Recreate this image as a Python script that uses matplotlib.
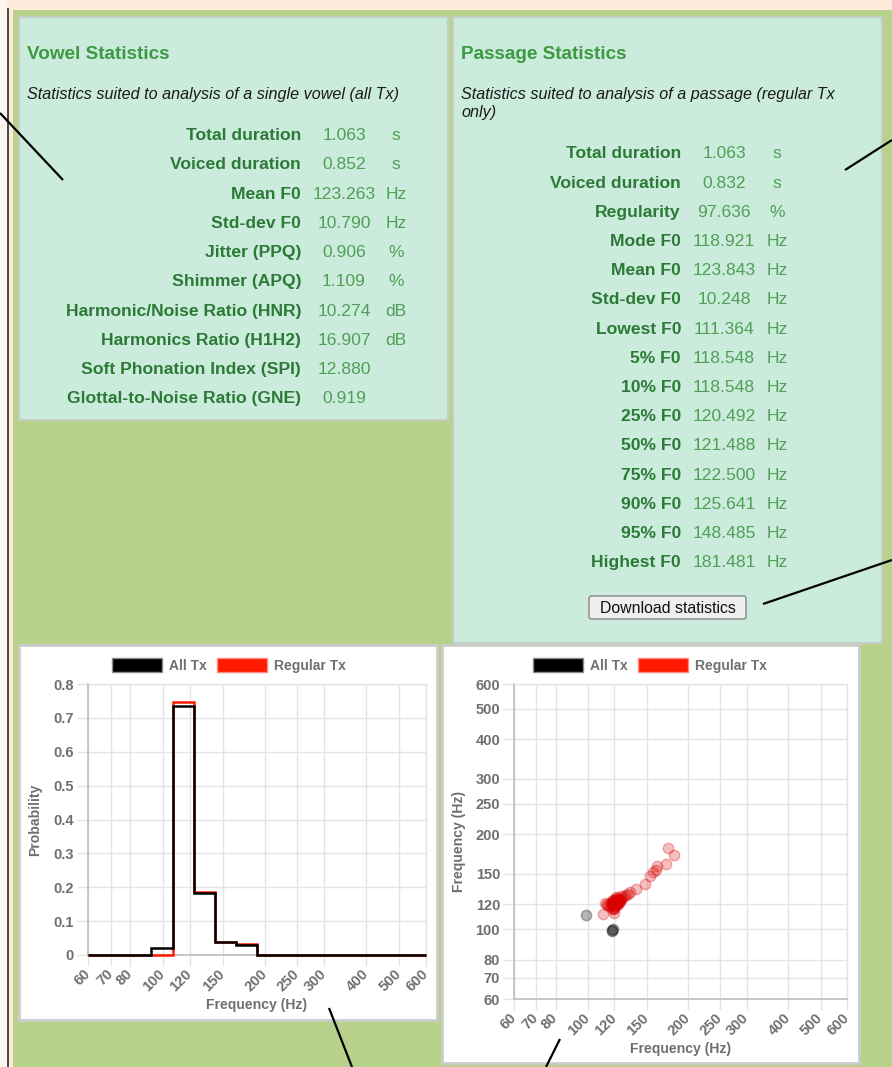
import matplotlib
matplotlib.use('Agg')
import matplotlib.pyplot as plt
from matplotlib.patches import Rectangle, FancyBboxPatch, Patch
from matplotlib.ticker import FixedLocator, NullLocator, FixedFormatter

plt.rcParams['font.family'] = ['Liberation Sans', 'DejaVu Sans']

# ---------------- data ----------------
vowel_labels = ["Total duration", "Voiced duration", "Mean F0", "Std-dev F0",
                "Jitter (PPQ)", "Shimmer (APQ)", "Harmonic/Noise Ratio (HNR)",
                "Harmonics Ratio (H1H2)", "Soft Phonation Index (SPI)",
                "Glottal-to-Noise Ratio (GNE)"]
vowel_values = ["1.063", "0.852", "123.263", "10.790", "0.906", "1.109",
                "10.274", "16.907", "12.880", "0.919"]
vowel_units = ["s", "s", "Hz", "Hz", "%", "%", "dB", "dB", "", ""]

passage_labels = ["Total duration", "Voiced duration", "Regularity", "Mode F0",
                  "Mean F0", "Std-dev F0", "Lowest F0", "5% F0", "10% F0",
                  "25% F0", "50% F0", "75% F0", "90% F0", "95% F0", "Highest F0"]
passage_values = ["1.063", "0.832", "97.636", "118.921", "123.843", "10.248",
                  "111.364", "118.548", "118.548", "120.492", "121.488",
                  "122.500", "125.641", "148.485", "181.481"]
passage_units = ["s", "s", "%", "Hz", "Hz", "Hz", "Hz", "Hz", "Hz", "Hz", "Hz",
                 "Hz", "Hz", "Hz", "Hz"]

freq_ticks = [60, 70, 80, 100, 120, 150, 200, 250, 300, 400, 500, 600]
prob_ticks = [0, 0.1, 0.2, 0.3, 0.4, 0.5, 0.6, 0.7, 0.8]
prob_labels = ["0", "0.1", "0.2", "0.3", "0.4", "0.5", "0.6", "0.7", "0.8"]

hist_edges = [60, 69.29, 80.01, 92.39, 106.70, 123.21, 142.28, 164.30, 189.74,
              219.1, 253.0, 292.2, 337.4, 389.6, 449.9, 519.6, 600]
hist_all = [0, 0, 0, 0.020, 0.735, 0.182, 0.039, 0.029, 0, 0, 0, 0, 0, 0, 0, 0]
hist_regular = [0, 0, 0, 0, 0.748, 0.186, 0.037, 0.031, 0, 0, 0, 0, 0, 0, 0, 0]

scatter_all_x = [98.6, 118.2, 118.6, 117.9]
scatter_all_y = [111.2, 99.3, 99.9, 98.8]

scatter_reg_x = [117, 118, 119, 120, 120, 121, 121, 122, 122, 123, 123, 124,
                 119, 120, 118, 121, 122, 120, 124, 125, 122, 119, 116, 117,
                 118, 119, 121, 123, 125, 126, 120, 121, 122, 118, 124, 126,
                 112.2, 113.8, 111.0, 119.6, 121.6, 126.9, 130.4, 134.0, 139.7,
                 148.0, 154.0, 159.9, 161.4, 172.2, 174.2, 181.6, 128.0, 132.0,
                 157.0, 114.5]
scatter_reg_y = [118, 120, 121, 119, 122, 120, 123, 121, 124, 122, 125, 123,
                 117, 116, 119, 121, 122, 120, 124, 125, 119, 122, 118, 121,
                 123, 124, 118, 120, 123, 124, 117, 125, 126, 116, 121, 127,
                 121.0, 120.3, 112.0, 112.6, 126.7, 126.0, 128.3, 131.5, 134.0,
                 139.4, 147.0, 154.0, 158.7, 161.3, 181.0, 172.5, 127.0, 129.0,
                 152.0, 119.0]

# ---------------- layout ----------------
W, H = 892, 1067
fig = plt.figure(figsize=(W / 100, H / 100), dpi=100)
fig.patch.set_facecolor('#fdeadb')

GREEN_BG = '#b8d28c'
MINT = '#cbebdc'
TITLE_C = '#3d9a42'
LABEL_C = '#2b7a35'
VALUE_C = '#4f9f56'


def fr(x0, y0, x1, y1):
    return [x0 / W, 1 - y1 / H, (x1 - x0) / W, (y1 - y0) / H]


bg = fig.add_axes([0, 0, 1, 1])
bg.set_xlim(0, W)
bg.set_ylim(H, 0)
bg.axis('off')

bg.add_patch(Rectangle((0, 0), 7, H, fc='#fbf4ef', ec='none'))
bg.add_patch(Rectangle((7, 8), 1.6, H, fc='#4a4a4a', ec='none'))
bg.add_patch(Rectangle((13, 10), W - 13, H - 10, fc=GREEN_BG, ec='none'))

# panels
bg.add_patch(Rectangle((19, 17), 429, 403, fc=MINT, ec='#c3cfc4', lw=1.5))
bg.add_patch(Rectangle((453, 17), 429, 626, fc=MINT, ec='#c3cfc4', lw=1.5))
bg.add_patch(Rectangle((19, 645), 418, 375, fc='white', ec='#cccccc', lw=2))
bg.add_patch(Rectangle((442, 645), 417, 418, fc='white', ec='#cccccc', lw=2))

# vowel panel text
bg.text(27, 59, "Vowel Statistics", fontsize=13.6, fontweight='bold',
        color=TITLE_C, va='baseline', ha='left')
bg.text(27, 99, "Statistics suited to analysis of a single vowel (all Tx)",
        fontsize=11.6, style='italic', color='#1a1a1a', va='baseline', ha='left')
for i, (lab, val, un) in enumerate(zip(vowel_labels, vowel_values, vowel_units)):
    yb = 140.0 + i * 29.26
    bg.text(301, yb, lab, fontsize=12.6, fontweight='bold', color=LABEL_C,
            ha='right', va='baseline')
    bg.text(344, yb, val, fontsize=12.6, color=VALUE_C, ha='center', va='baseline')
    bg.text(396, yb, un, fontsize=12.6, color=VALUE_C, ha='center', va='baseline')

# passage panel text
bg.text(461, 59, "Passage Statistics", fontsize=13.6, fontweight='bold',
        color=TITLE_C, va='baseline', ha='left')
bg.text(461, 99, "Statistics suited to analysis of a passage (regular Tx",
        fontsize=11.6, style='italic', color='#1a1a1a', va='baseline', ha='left')
bg.text(461, 117, "only)", fontsize=11.6, style='italic', color='#1a1a1a',
        va='baseline', ha='left')
for i, (lab, val, un) in enumerate(zip(passage_labels, passage_values, passage_units)):
    yb = 158.5 + i * 29.2
    bg.text(681, yb, lab, fontsize=12.6, fontweight='bold', color=LABEL_C,
            ha='right', va='baseline')
    bg.text(724, yb, val, fontsize=12.6, color=VALUE_C, ha='center', va='baseline')
    bg.text(777, yb, un, fontsize=12.6, color=VALUE_C, ha='center', va='baseline')

# button
bg.add_patch(FancyBboxPatch((589, 596), 157, 23,
                            boxstyle='round,pad=0,rounding_size=2.5',
                            fc='#efefef', ec='#858585', lw=1))
bg.text(667.5, 613.3, "Download statistics", fontsize=11.4, color='#111111',
        ha='center', va='baseline')

# ---------------- charts ----------------
GRID_C = '#e4e4e4'
TICK_C = '#6f6f6f'
FONT_KW = dict(fontsize=10.1, color=TICK_C, fontweight='bold')


def style_freq_x(ax):
    ax.set_xscale('log')
    ax.set_xlim(60, 600)
    ax.xaxis.set_major_locator(FixedLocator(freq_ticks))
    ax.xaxis.set_minor_locator(NullLocator())
    ax.xaxis.set_major_formatter(FixedFormatter([str(t) for t in freq_ticks]))


def common(ax):
    ax.set_axisbelow(True)
    ax.grid(True, color=GRID_C, lw=1)
    ax.tick_params(length=8, width=1, color=GRID_C, labelsize=10.5,
                   labelcolor=TICK_C, pad=2)
    ax.tick_params(axis='x', pad=4)
    for lab in ax.get_xticklabels() + ax.get_yticklabels():
        lab.set_fontweight('bold')
    for lab in ax.get_xticklabels():
        lab.set_rotation(45)
        lab.set_ha('right')
        lab.set_va('center')
        lab.set_rotation_mode('anchor')
    for s in ['top', 'right']:
        ax.spines[s].set_color(GRID_C)
        ax.spines[s].set_linewidth(1)
    for s in ['left', 'bottom']:
        ax.spines[s].set_color('#bdbdbd')
        ax.spines[s].set_linewidth(1.2)


# histogram
hax = fig.add_axes(fr(88, 684, 426, 955))
hax.stairs(hist_regular, hist_edges, color='#ff1a00', lw=1.8, baseline=None,
           clip_on=False, zorder=3)
hax.stairs(hist_all, hist_edges, color='black', lw=1.8, baseline=None,
           clip_on=False, zorder=4)
style_freq_x(hax)
hax.set_ylim(0, 0.8)
hax.yaxis.set_major_locator(FixedLocator(prob_ticks))
hax.yaxis.set_major_formatter(FixedFormatter(prob_labels))
common(hax)
hax.set_xlabel("Frequency (Hz)", labelpad=3, **FONT_KW)
hax.set_ylabel("Probability", labelpad=8, **FONT_KW)

# scatter
sax = fig.add_axes(fr(514, 684, 847, 999))
sax.scatter(scatter_all_x, scatter_all_y, s=56, fc=(0, 0, 0, 0.28),
            ec=(0, 0, 0, 0.3), lw=1, zorder=3)
sax.scatter(scatter_reg_x, scatter_reg_y, s=56, fc=(0.85, 0, 0, 0.25),
            ec=(0.85, 0, 0, 0.3), lw=1, zorder=4)
style_freq_x(sax)
sax.set_yscale('log')
sax.set_ylim(60, 600)
sax.yaxis.set_major_locator(FixedLocator(freq_ticks))
sax.yaxis.set_minor_locator(NullLocator())
sax.yaxis.set_major_formatter(FixedFormatter([str(t) for t in freq_ticks]))
common(sax)
sax.set_xlabel("Frequency (Hz)", labelpad=3, **FONT_KW)
sax.set_ylabel("Frequency (Hz)", labelpad=7, **FONT_KW)

# legends
handles = [Patch(fc='black', ec='#8a8a8a', lw=1, label='All Tx'),
           Patch(fc='#ff1a00', ec='#ff8a80', lw=1, label='Regular Tx')]
for cx in (229 / W, 650 / W):
    leg = fig.legend(handles=handles, loc='center',
                     bbox_to_anchor=(cx, 1 - 665.5 / H),
                     ncol=2, frameon=False, fontsize=10.0, labelcolor=TICK_C,
                     handlelength=3.6, handleheight=1.2, handletextpad=0.5,
                     columnspacing=0.7, borderpad=0, borderaxespad=0)
    for t in leg.get_texts():
        t.set_fontweight('bold')

# annotation lines (overlay)
ov = fig.add_axes([0, 0, 1, 1], facecolor='none')
ov.set_xlim(0, W)
ov.set_ylim(H, 0)
ov.axis('off')
ov.set_zorder(10)
for (x0, y0, x1, y1) in [(0, 113, 63, 180), (892, 140, 845, 170),
                         (892, 560, 763, 604), (329, 1008, 352, 1067),
                         (560, 1039, 546, 1067)]:
    ov.plot([x0, x1], [y0, y1], color='black', lw=1.6, solid_capstyle='butt')

fig.savefig('out.png', dpi=100, facecolor=fig.get_facecolor())
